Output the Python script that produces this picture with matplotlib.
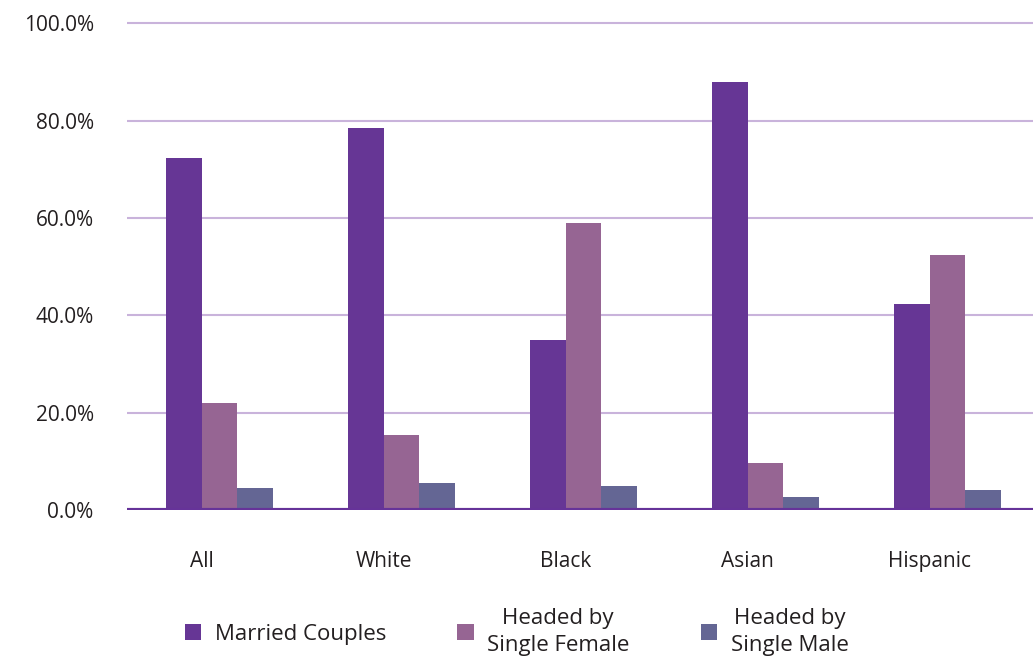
import matplotlib.pyplot as plt
import numpy as np

categories = ["All", "White", "Black", "Asian", "Hispanic"]
married = [72.4, 78.5, 34.9, 87.9, 42.3]
single_female = [22.0, 15.4, 59.0, 9.8, 52.5]
single_male = [4.6, 5.5, 4.9, 2.8, 4.2]

series = [
    ("Married Couples", married, "#663695"),
    ("Headed by\nSingle Female", single_female, "#966593"),
    ("Headed by\nSingle Male", single_male, "#646694"),
]

plt.rcParams["font.family"] = ["Open Sans", "DejaVu Sans"]

fig = plt.figure(figsize=(10.33, 6.61), dpi=100)
ax = fig.add_axes([0.123, 0.228, 0.877, 0.740])

x = np.arange(len(categories))
w = 0.195
for i, (name, vals, col) in enumerate(series):
    ax.bar(x + (i - 1) * w, vals, w, color=col, label=name, zorder=3)

ax.set_ylim(0, 100.4)
ax.set_xlim(-0.508, 4.47)
ax.set_yticks(np.arange(0, 101, 20))
ax.set_yticklabels([f"{v:.1f}%" for v in range(0, 101, 20)])
ax.set_xticks(x - w / 2)
ax.set_xticklabels(categories)
ax.grid(axis="y", color="#c9b3db", lw=1.5, zorder=0)
ax.axhline(0, color="#663399", lw=3, zorder=4)
for s in ax.spines.values():
    s.set_visible(False)
ax.tick_params(axis="y", length=0, pad=24, labelsize=15, labelcolor="#231f20")
ax.tick_params(axis="x", length=0, pad=29, labelsize=15, labelcolor="#231f20")

leg = fig.legend(loc="center", bbox_to_anchor=(0.5, 0.044), ncol=3, frameon=False,
                 fontsize=16, handlelength=0.75, handleheight=0.75,
                 handletextpad=0.6, columnspacing=3.2)
for t in leg.get_texts():
    t.set_multialignment("center")
    t.set_linespacing(1.35)
    t.set_color("#231f20")

fig.savefig("out.png", dpi=100)
